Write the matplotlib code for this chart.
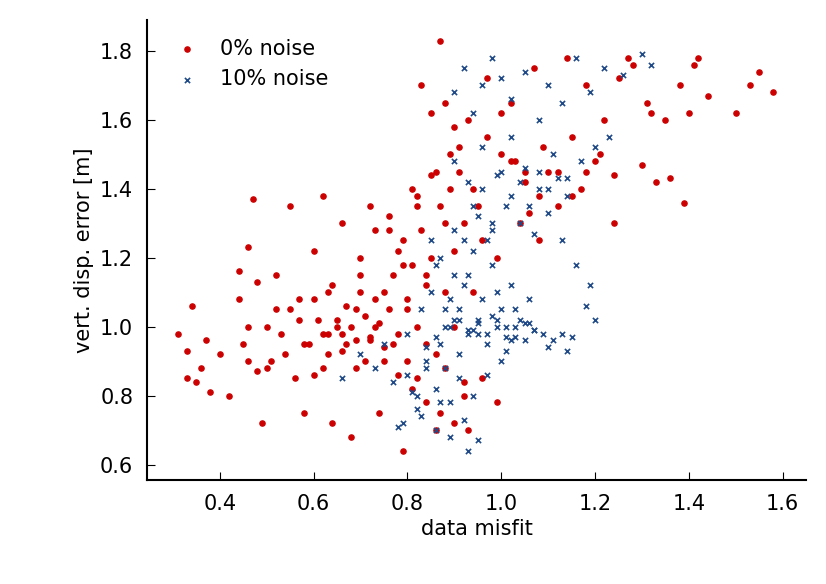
import numpy as np
import matplotlib
matplotlib.use("Agg")
import matplotlib.pyplot as plt

# values (representative subset of the point cloud)
red_x = [0.31, 0.33, 0.34, 0.35, 0.36, 0.38, 0.33, 0.37, 0.42, 0.44, 0.45, 0.46, 0.47, 0.46, 0.48, 0.49,
         0.50, 0.51, 0.52, 0.53, 0.55, 0.56, 0.57, 0.58, 0.59, 0.60, 0.61, 0.62, 0.62, 0.63, 0.64, 0.65,
         0.66, 0.67, 0.68, 0.69, 0.70, 0.71, 0.72, 0.73, 0.74, 0.75, 0.76, 0.77, 0.78, 0.79, 0.80, 0.81,
         0.82, 0.83, 0.84, 0.85, 0.86, 0.87, 0.88, 0.89, 0.90, 0.91, 0.92, 0.93, 0.95, 0.97, 0.99, 1.00,
         1.02, 1.04, 1.05, 1.07, 1.08, 1.10, 1.12, 1.14, 1.15, 1.17, 1.18, 1.20, 1.22, 1.24, 1.25, 1.28,
         1.30, 1.31, 1.33, 1.35, 1.38, 1.39, 1.40, 1.42, 1.44, 1.50, 1.53, 1.55, 1.58,
         0.55, 0.58, 0.60, 0.62, 0.64, 0.65, 0.66, 0.67, 0.68, 0.69, 0.70, 0.71, 0.72, 0.73, 0.74, 0.75,
         0.76, 0.77, 0.78, 0.79, 0.80, 0.81, 0.82, 0.83, 0.84, 0.85, 0.86, 0.87, 0.88, 0.89, 0.90, 0.92,
         0.63, 0.66, 0.69, 0.72, 0.75, 0.78, 0.81, 0.84, 0.87, 0.90, 0.93, 0.96, 0.99, 1.02, 1.05, 1.08,
         0.70, 0.73, 0.76, 0.79, 0.82, 0.85, 0.88, 0.91, 0.94, 0.97, 1.00, 1.03, 1.06, 1.09, 1.12, 1.15,
         0.80, 0.82, 0.84, 0.86, 0.88, 0.90, 0.92, 0.94, 0.96, 1.18, 1.21, 1.24, 1.27, 1.32, 1.36, 1.41,
         0.50, 0.52, 0.54, 0.57, 0.60, 0.63, 0.44, 0.46, 0.48, 0.40]
red_y = [0.98, 0.85, 1.06, 0.84, 0.88, 0.81, 0.93, 0.96, 0.80, 1.16, 0.95, 1.23, 1.37, 0.90, 1.13, 0.72,
         1.00, 0.90, 1.15, 0.98, 1.35, 0.85, 1.08, 0.75, 0.95, 1.22, 1.02, 1.38, 0.88, 1.10, 0.72, 1.00,
         1.30, 0.95, 0.68, 1.05, 1.20, 0.90, 1.35, 1.00, 0.75, 1.10, 1.28, 0.95, 1.22, 0.64, 1.05, 1.40,
         0.85, 1.70, 1.15, 1.62, 0.70, 1.83, 1.30, 1.50, 1.00, 1.45, 0.80, 1.60, 1.35, 1.72, 1.20, 1.50,
         1.65, 1.30, 1.42, 1.75, 1.25, 1.45, 1.35, 1.78, 1.55, 1.40, 1.70, 1.48, 1.60, 1.30, 1.72, 1.76,
         1.47, 1.65, 1.42, 1.60, 1.70, 1.36, 1.62, 1.78, 1.67, 1.62, 1.70, 1.74, 1.68,
         1.05, 0.95, 1.08, 0.98, 1.12, 1.02, 0.93, 1.06, 1.00, 0.96, 1.10, 1.03, 0.97, 1.08, 1.01, 0.94,
         1.05, 1.15, 0.98, 1.25, 1.08, 1.18, 1.00, 1.28, 1.12, 1.20, 0.92, 1.35, 1.10, 1.40, 1.22, 1.30,
         0.92, 0.98, 0.88, 0.96, 0.90, 0.86, 0.82, 0.78, 0.75, 0.72, 0.70, 0.85, 0.78, 1.48, 1.45, 1.38,
         1.15, 1.28, 1.32, 1.18, 1.38, 1.44, 1.65, 1.52, 1.40, 1.55, 1.62, 1.48, 1.33, 1.52, 1.45, 1.38,
         0.90, 1.35, 0.95, 1.45, 0.88, 1.58, 0.84, 1.10, 1.25, 1.45, 1.50, 1.44, 1.78, 1.62, 1.43, 1.76,
         0.88, 1.05, 0.92, 1.02, 0.86, 0.98, 1.08, 1.00, 0.87, 0.92]

blue_x = [0.66, 0.70, 0.73, 0.75, 0.78, 0.80, 0.82, 0.83, 0.84, 0.85, 0.86, 0.87, 0.88, 0.89, 0.90, 0.91,
          0.92, 0.93, 0.94, 0.95, 0.96, 0.97, 0.98, 0.99, 1.00, 1.01, 1.02, 1.03, 1.04, 1.05, 1.06, 1.07,
          1.08, 1.09, 1.10, 1.11, 1.12, 1.13, 1.14, 1.15, 0.86, 0.88, 0.90, 0.92, 0.94, 0.96, 0.98, 1.00,
          1.02, 1.04, 1.06, 0.87, 0.89, 0.91, 0.93, 0.95, 0.97, 0.99, 1.01, 1.03, 0.85, 0.88, 0.91, 0.94,
          0.97, 1.00, 0.79, 0.81, 0.83, 0.86, 0.89, 0.92, 0.93, 0.95, 0.82, 0.87, 0.90, 0.92, 0.94, 0.96,
          0.98, 1.00, 1.02, 1.05, 1.08, 1.10, 1.13, 1.16, 1.19, 1.22, 1.26, 1.30, 1.32, 0.90, 0.93, 0.96,
          0.99, 1.02, 1.05, 1.08, 1.11, 1.14, 1.17, 1.20, 1.23, 0.95, 0.98, 1.01, 1.04, 1.07, 1.10, 1.13,
          1.16, 1.19, 1.18, 1.20, 0.89, 0.91, 0.93, 0.95, 0.97, 0.99, 1.01, 1.03, 1.05, 1.07, 0.84, 0.86,
          0.90, 0.94, 0.98, 1.02, 1.06, 1.10, 1.14, 0.77, 0.80, 0.84]
blue_y = [0.85, 0.92, 0.88, 0.95, 0.71, 0.98, 0.76, 1.05, 0.90, 1.10, 0.82, 1.20, 1.00, 0.78, 1.15, 1.05,
          1.25, 0.98, 1.35, 1.02, 1.40, 0.95, 1.30, 1.00, 1.45, 0.97, 1.38, 1.00, 1.42, 0.96, 1.35, 0.99,
          1.45, 0.98, 1.40, 0.96, 1.43, 0.98, 1.38, 0.97, 1.18, 1.05, 1.28, 1.12, 1.22, 1.08, 1.18, 1.05,
          1.12, 1.02, 1.08, 0.95, 1.08, 0.92, 1.15, 0.98, 1.25, 1.10, 0.93, 1.05, 1.25, 0.88, 0.85, 0.80,
          0.86, 0.90, 0.72, 0.81, 0.74, 0.70, 0.68, 0.73, 0.64, 0.67, 0.80, 0.78, 1.68, 1.75, 1.62, 1.70,
          1.78, 1.72, 1.66, 1.74, 1.60, 1.70, 1.65, 1.78, 1.68, 1.75, 1.73, 1.79, 1.76, 1.48, 1.42, 1.52,
          1.44, 1.55, 1.46, 1.40, 1.50, 1.43, 1.48, 1.52, 1.55, 1.32, 1.28, 1.35, 1.30, 1.27, 1.33, 1.25,
          1.18, 1.12, 1.06, 1.02, 1.00, 1.02, 0.99, 1.01, 0.98, 1.02, 1.00, 0.97, 1.01, 0.99, 0.94, 0.97,
          1.02, 0.99, 1.03, 0.96, 1.01, 0.94, 0.93, 0.84, 0.86, 0.88]

fig, ax = plt.subplots(figsize=(8.26, 5.84), dpi=100)
fig.subplots_adjust(left=0.178, right=0.976, top=0.966, bottom=0.178)

ax.scatter(red_x, red_y, s=14, marker="o", color="#cc0000", label="0% noise", zorder=2)
ax.scatter(blue_x, blue_y, s=14, marker="x", color="#1f4a87", linewidths=1.2,
           label="10% noise", zorder=3)

ax.set_xlim(0.245, 1.65)
ax.set_ylim(0.555, 1.89)
ax.set_xticks([0.4, 0.6, 0.8, 1.0, 1.2, 1.4, 1.6])
ax.set_yticks([0.6, 0.8, 1.0, 1.2, 1.4, 1.6, 1.8])
ax.set_xticklabels(["0.4", "0.6", "0.8", "1.0", "1.2", "1.4", "1.6"])
ax.set_yticklabels(["0.6", "0.8", "1.0", "1.2", "1.4", "1.6", "1.8"])
ax.tick_params(labelsize=15, direction="in", length=6, pad=10)
ax.spines["top"].set_visible(False)
ax.spines["right"].set_visible(False)
ax.spines["left"].set_linewidth(1.5)
ax.spines["bottom"].set_linewidth(1.5)
ax.set_xlabel("data misfit", fontsize=15)
ax.set_ylabel("vert. disp. error [m]", fontsize=15)
ax.legend(loc="upper left", frameon=False, fontsize=15, handletextpad=0.6)

fig.savefig("out.png", dpi=100)
